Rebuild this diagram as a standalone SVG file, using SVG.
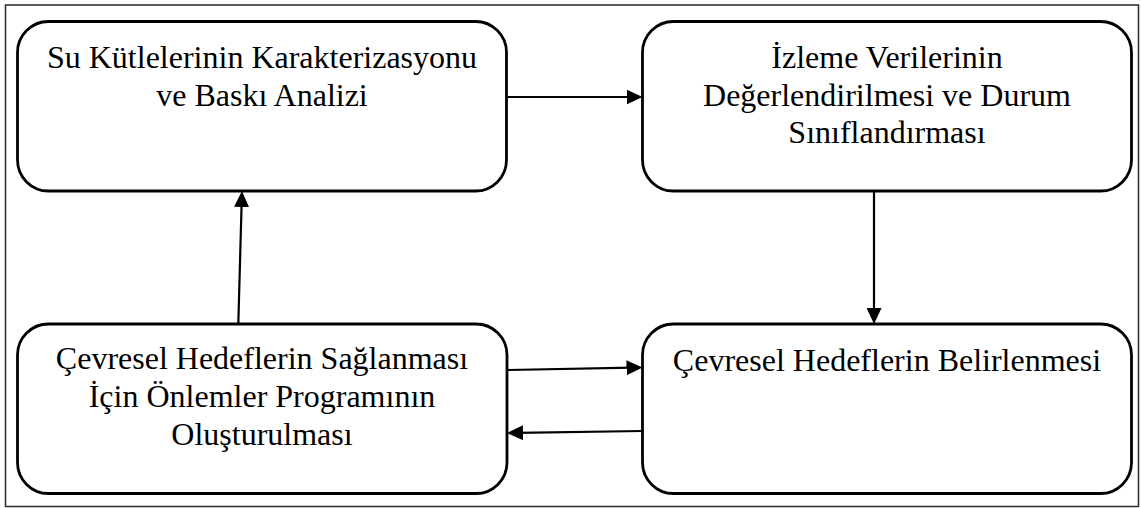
<svg xmlns="http://www.w3.org/2000/svg" width="1141" height="508" viewBox="0 0 1141 508">
  <style>
    .frame { fill: #ffffff; stroke: #333333; stroke-width: 1.6; }
    .box { fill: #ffffff; stroke: #000000; stroke-width: 2.8; }
    .label { font-family: "Liberation Serif", "Times New Roman", serif; font-size: 32px; fill: #000000; text-anchor: middle; }
    .link { fill: none; stroke: #000000; stroke-width: 2.2; marker-end: url(#head); }
  </style>
  <defs>
    <marker id="head" markerUnits="userSpaceOnUse" markerWidth="16" markerHeight="15" refX="6" refY="7.5" orient="auto">
      <path d="M0,0 L16,7.5 L0,15 Z" fill="#000000"/>
    </marker>
  </defs>

  <rect class="frame" x="5.5" y="5" width="1133" height="501.5"/>

  <g id="node-characterization">
    <rect class="box" x="17.5" y="21.5" width="489" height="169.5" rx="31" ry="31"/>
    <text class="label" x="262" y="68">Su Kütlelerinin Karakterizasyonu</text>
    <text class="label" x="262" y="106">ve Baskı Analizi</text>
  </g>

  <g id="node-monitoring">
    <rect class="box" x="642.5" y="21.5" width="489" height="169.5" rx="31" ry="31"/>
    <text class="label" x="887" y="68">İzleme Verilerinin</text>
    <text class="label" x="887" y="106">Değerlendirilmesi ve Durum</text>
    <text class="label" x="887" y="143">Sınıflandırması</text>
  </g>

  <g id="node-measures">
    <rect class="box" x="17.5" y="324" width="489.5" height="169.5" rx="31" ry="31"/>
    <text class="label" x="262" y="369">Çevresel Hedeflerin Sağlanması</text>
    <text class="label" x="262" y="407">İçin Önlemler Programının</text>
    <text class="label" x="262" y="445">Oluşturulması</text>
  </g>

  <g id="node-objectives">
    <rect class="box" x="642.5" y="324" width="489" height="169.5" rx="31" ry="31"/>
    <text class="label" x="887" y="371">Çevresel Hedeflerin Belirlenmesi</text>
  </g>

  <g id="connectors">
    <line class="link" x1="506.5" y1="97" x2="632.5" y2="97"/>
    <line class="link" x1="874" y1="191" x2="874" y2="314"/>
    <line class="link" x1="238.3" y1="324" x2="241.7" y2="201"/>
    <line class="link" x1="507" y1="370" x2="632.5" y2="367.7"/>
    <line class="link" x1="642.5" y1="431" x2="517" y2="432.8"/>
  </g>
</svg>
